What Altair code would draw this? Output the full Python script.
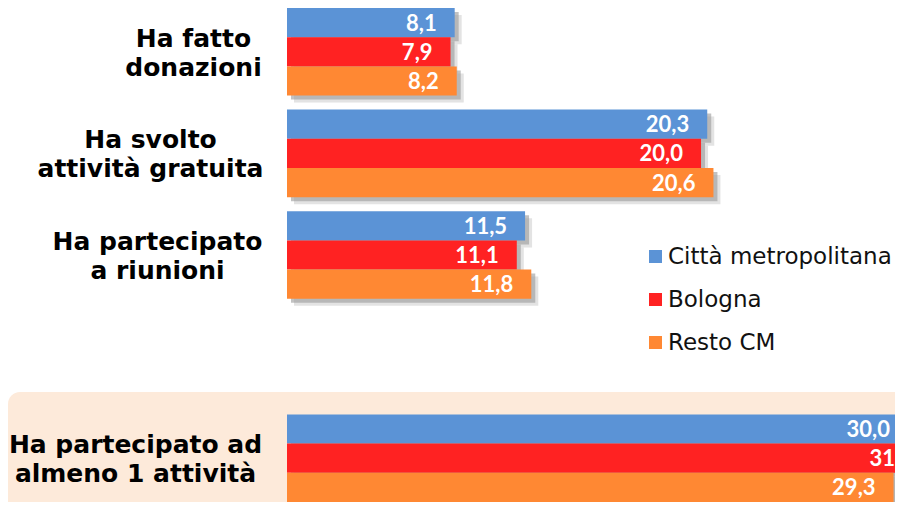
import altair as alt
import pandas as pd

categories = [
    "Ha fatto |donazioni",
    "Ha svolto |attività gratuita",
    "Ha partecipato|a riunioni",
    "Ha partecipato ad|almeno 1 attività",
]
series = ["Città metropolitana", "Bologna", "Resto CM"]
citta = [8.1, 20.3, 11.5, 30.0]
bologna = [7.9, 20.0, 11.1, 31.1]
resto = [8.2, 20.6, 11.8, 29.3]
colors = ["#5B93D6", "#FF2222", "#FF8833"]

rows = []
for s, vals in zip(series, [citta, bologna, resto]):
    for c, v in zip(categories, vals):
        rows.append({"cat": c, "serie": s, "val": v})
df = pd.DataFrame(rows)

spacer = " "
ydomain = categories[:3] + [spacer] + categories[3:]

W, H = 608, 494
XMAX = 29.37
PIN = 0.138
BW = H / (len(ydomain) - PIN) * (1 - PIN)

label_pad = {
    "condition": [
        {"test": f"datum.value == '{categories[0]}'", "value": 94},
        {"test": f"datum.value == '{categories[1]}'", "value": 137},
        {"test": f"datum.value == '{categories[2]}'", "value": 130},
    ],
    "value": 152,
}

yenc = alt.Y(
    "cat:N",
    title=None,
    scale=alt.Scale(domain=ydomain, paddingInner=PIN, paddingOuter=0),
    axis=alt.Axis(
        labelExpr="split(datum.label, '|')",
        labelAlign="center",
        labelBaseline="middle",
        labelOffset=-13,
        labelFont="DejaVu Sans",
        labelFontWeight="bold",
        labelFontSize=25,
        labelLineHeight=29,
        labelColor="#000000",
        labelLimit=500,
        labelPadding=label_pad,
        domain=False,
        ticks=False,
        tickSize=0,
        grid=False,
        zindex=2,
    ),
)
yoff = alt.YOffset("serie:N", scale=alt.Scale(domain=series, paddingInner=0, paddingOuter=0))
xenc = alt.X("val:Q", axis=None, scale=alt.Scale(domain=[0, XMAX], nice=False, zero=True))

base = alt.Chart(df).encode(y=yenc, yOffset=yoff, x=xenc)


def shadow(off, col, op):
    return alt.Chart(df).mark_bar(
        color=col, opacity=op, clip=True, xOffset=off, x2Offset=off
    ).encode(
        y=yenc,
        x=xenc,
        yOffset=alt.YOffset(
            "serie:N",
            scale=alt.Scale(domain=series, paddingInner=0, paddingOuter=0, range=[off, BW + off]),
        ),
    )


box = alt.Chart(pd.DataFrame({"k": [0]})).mark_rect(
    color="#FDEADA", cornerRadius=12
).encode(
    x=alt.value(-279), x2=alt.value(W + 30), y=alt.value(384), y2=alt.value(H + 30)
)

shadow2 = shadow(7, "#d0d0d0", 0.6)
shadow1 = shadow(4, "#999999", 0.6)

bars = base.mark_bar(clip=True).encode(
    color=alt.Color(
        "serie:N",
        scale=alt.Scale(domain=series, range=colors),
        legend=alt.Legend(
            orient="none",
            legendX=357,
            legendY=237,
            title=None,
            symbolType="square",
            symbolSize=169,
            symbolStrokeWidth=0,
            labelFont="DejaVu Sans",
            labelFontSize=23,
            labelColor="#111111",
            labelOffset=1,
            rowPadding=19,
            padding=0,
            labelLimit=500,
        ),
    )
)

text = base.transform_calculate(
    lab="replace(format(datum.val, '.1f'), '.', ',')"
).mark_text(
    align="right", baseline="middle", dx=-18, dy=1,
    font="Lato", fontWeight="bold", fontSize=22, color="white", clip=True,
).encode(text="lab:N")

inner = alt.layer(bars, text)

chart = alt.layer(box, shadow2, shadow1, inner).resolve_scale(
    yOffset="independent"
).properties(
    width=W,
    height=H,
    autosize=alt.AutoSizeParams(type="none"),
    padding={"left": 279, "top": 0, "right": 0, "bottom": 0},
    background="white",
).configure_view(stroke=None)

chart.save("out.html", embed_options={"renderer": "svg", "actions": False})
